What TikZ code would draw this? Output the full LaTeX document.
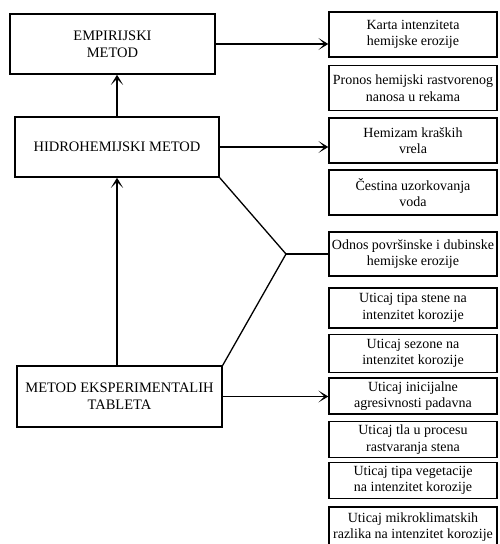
\documentclass[tikz,border=0pt]{standalone}
\usepackage{fontspec}
\setmainfont{Liberation Serif}
\usetikzlibrary{arrows.meta,positioning}
\begin{document}
\begin{tikzpicture}[x=1pt,y=-1pt,
  lbox/.style={draw, line width=1.5pt, minimum width=205pt, minimum height=60pt,
    align=center, inner sep=2pt, font=\fontsize{14.5}{17}\selectfont},
  rbox/.style={draw, line width=1.4pt, minimum width=168pt, align=center,
    inner sep=1pt, font=\fontsize{14}{16.5}\selectfont},
  conn/.style={line width=1.3pt},
  arr/.style={line width=1.3pt, -{Stealth[length=10pt,width=12pt,inset=6pt]}}]
\useasboundingbox (0,0) rectangle (499,544);
% left boxes
\node[lbox] (E) at (112.5,44) {EMPIRIJSKI\\METOD};
\node[lbox, minimum width=204pt] (H) at (117,147) {HIDROHEMIJSKI METOD};
\node[lbox, minimum height=61pt] (M) at (119.5,396.5) {METOD EKSPERIMENTALIH\\TABLETA};
% right boxes
\node[rbox, minimum height=45pt] (r1) at (413,34.5) {Karta intenziteta\\hemijske erozije};
\node[rbox, minimum height=45pt] (r2) at (413,88) {Pronos hemijski rastvorenog\\nanosa u rekama};
\node[rbox, minimum height=45pt] (r3) at (413,140.5) {Hemizam kraških\\vrela};
\node[rbox, minimum height=45pt] (r4) at (413,192.5) {Čestina uzorkovanja\\voda};
\node[rbox, minimum height=44pt] (r5) at (413,254) {Odnos površinske i dubinske\\hemijske erozije};
\node[rbox, minimum height=40pt] (r6) at (413,308) {Uticaj tipa stene na\\intenzitet korozije};
\node[rbox, minimum height=38pt] (r7) at (413,353.5) {Uticaj sezone na\\intenzitet korozije};
\node[rbox, minimum height=36pt] (r8) at (413,396) {Uticaj inicijalne\\agresivnosti padavna};
\node[rbox, minimum height=36pt] (r9) at (413,439.5) {Uticaj tla u procesu\\rastvaranja stena};
\node[rbox, minimum height=36pt] (r10) at (413,480.5) {Uticaj tipa vegetacije\\na intenzitet korozije};
\node[rbox, minimum height=40pt] (r11) at (413,527) {Uticaj mikroklimatskih\\razlika na intenzitet korozije};
% connectors
\draw[arr] (E.east) -- (E.east -| r1.west);
\draw[arr] (H.east) -- (H.east -| r3.west);
\draw[arr] (M.east) -- (M.east -| r8.west);
\draw[arr] (H.north) -- (H.north |- E.south);
\draw[arr] (H.south |- M.north) -- (H.south);
\coordinate (v) at (286,254);
\draw[conn] (H.south east) -- (v) -- (M.north east);
\draw[conn] (v) -- (r5.west);
\end{tikzpicture}
\end{document}
